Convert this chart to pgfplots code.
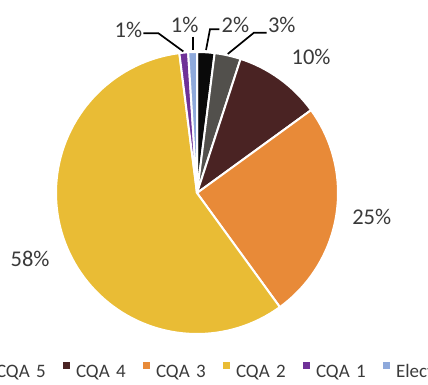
\documentclass[border=0pt]{standalone}
\usepackage{fontspec}
\setmainfont{Carlito}
\usepackage{pgfplots}
\usepackage{pgfplotstable}
\pgfplotsset{compat=1.18}
\definecolor{pie0}{HTML}{0A0A0A}
\definecolor{pie1}{HTML}{52504C}
\definecolor{pie2}{HTML}{4A2323}
\definecolor{pie3}{HTML}{E88A38}
\definecolor{pie4}{HTML}{E9BC35}
\definecolor{pie5}{HTML}{6F3198}
\definecolor{pie6}{HTML}{8EA9DB}
\definecolor{textgrey}{HTML}{3A3A3A}
\pgfplotstableread[col sep=comma]{
name,value
CQA 6,2
CQA 5,3
CQA 4,10
CQA 3,25
CQA 2,58
CQA 1,1
Electricity,1
}\piedata
\begin{document}
\begin{tikzpicture}
\xdef\cum{0}
\foreach \i in {0,...,6}{
  \pgfplotstablegetelem{\i}{value}\of\piedata
  \pgfmathsetmacro\sa{90-3.6*\cum}
  \pgfmathsetmacro\newcum{\cum+\pgfplotsretval}
  \pgfmathsetmacro\ea{90-3.6*\newcum}
  \expandafter\xdef\csname pieS\i\endcsname{\sa}
  \expandafter\xdef\csname pieE\i\endcsname{\ea}
  \xdef\cum{\newcum}
}
\begin{axis}[
  at={(0,0)}, anchor=south west,
  scale only axis, width=428bp, height=385bp,
  xmin=-1.3972, xmax=1.6383, ymin=-1.3617, ymax=1.3688,
  hide axis, clip=false,
  legend columns=-1,
  legend image code/.code={\fill[#1,draw=none] (0bp,2.5bp) rectangle (6.5bp,9bp);},
  legend style={at={(-0.2266,0.0390)}, anchor=west, draw=none, fill=none,
    inner sep=0pt, outer sep=0pt, column sep=6.5bp,
    font=\fontsize{19bp}{22bp}\selectfont, text=textgrey,
    nodes={inner sep=0pt, text width=60.5bp, align=left, text height=12bp, text depth=0bp}},
]
\pgfplotsforeachungrouped \i in {0,...,6}{
  \edef\doplot{\noexpand\addplot[fill=pie\i, draw=white, line width=2bp,
    domain=\csname pieE\i\endcsname:\csname pieS\i\endcsname, samples=90,
    variable=\noexpand\t] ({cos(\noexpand\t)},{sin(\noexpand\t)}) -- (axis cs:0,0) -- cycle;}
  \doplot
}
\legend{CQA 6,CQA 5,CQA 4,CQA 3,CQA 2,CQA 1,\mbox{Electricity}}
% leader lines
\addplot[forget plot, black, line width=1.7bp, mark=none] coordinates {(-0.381,1.133) (-0.274,1.133) (-0.097,1.004)};
\addplot[forget plot, black, line width=1.7bp, mark=none] coordinates {(-0.030,1.109) (-0.030,1.014)};
\addplot[forget plot, black, line width=1.7bp, mark=none] coordinates {(0.158,1.161) (0.092,1.161) (0.064,1.014)};
\addplot[forget plot, black, line width=1.7bp, mark=none] coordinates {(0.494,1.137) (0.404,1.137) (0.218,0.986)};
% data labels
\begin{scope}[every node/.style={text=textgrey, font=\fontsize{22.5bp}{26bp}\selectfont, inner sep=0pt}]
\node at (axis cs:-0.487,1.154) {1\%};
\node at (axis cs:-0.087,1.195) {1\%};
\node at (axis cs:0.272,1.195) {2\%};
\node at (axis cs:0.601,1.195) {3\%};
\node at (axis cs:0.809,0.967) {10\%};
\node at (axis cs:1.239,-0.167) {25\%};
\node at (axis cs:-1.184,-0.465) {58\%};
\end{scope}
\end{axis}
\pgfresetboundingbox
\useasboundingbox (0,0) rectangle (428bp,385bp);
\end{tikzpicture}
\end{document}
